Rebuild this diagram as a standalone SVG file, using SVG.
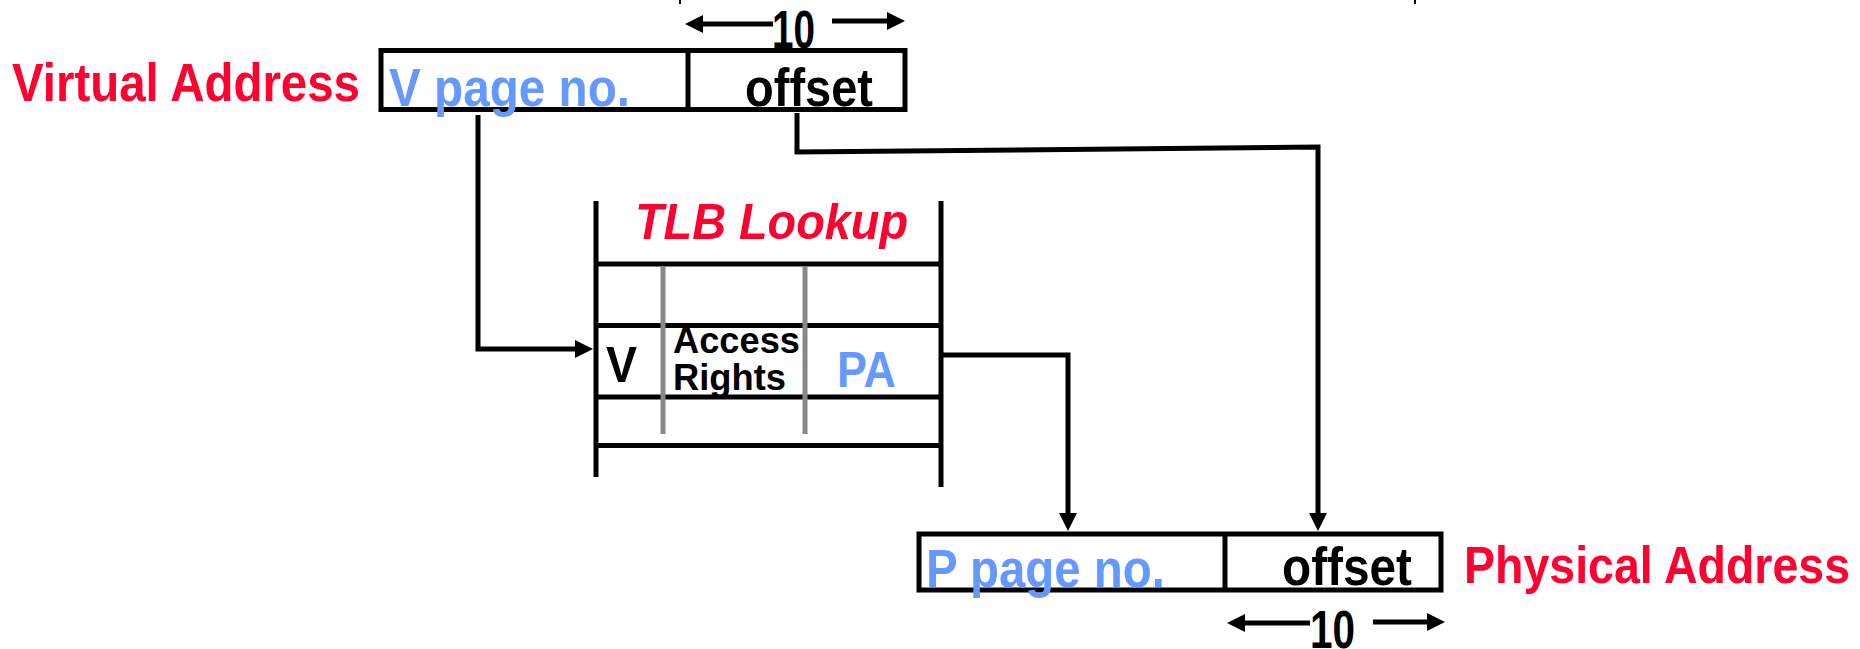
<svg xmlns="http://www.w3.org/2000/svg" width="1860" height="649" viewBox="0 0 1860 649">
<defs>
<style>
text{font-family:"Liberation Sans",Arial,Helvetica,sans-serif;font-weight:bold}
.red{fill:#ff0030}
.blue{fill:#6699ff}
.blk{fill:#000}
.box{fill:none;stroke:#000;stroke-width:5}
.ln{fill:none;stroke:#000;stroke-width:5}
.gray{fill:none;stroke:#888;stroke-width:5}
.conn{fill:none;stroke:#000;stroke-width:5;marker-end:url(#ah)}
</style>
<marker id="ah" viewBox="0 0 18 18" refX="6" refY="9" markerWidth="18" markerHeight="18" markerUnits="userSpaceOnUse" orient="auto">
<path d="M0,0 L18,9 L0,18 z" fill="#000"/>
</marker>
</defs>
<rect width="1860" height="649" fill="#fff"/>

<g id="ticks">
<line x1="680" y1="0" x2="680" y2="4" stroke="#000" stroke-width="2"/>
<line x1="1415" y1="0" x2="1415" y2="4" stroke="#000" stroke-width="2"/>
</g>

<g id="virtual-address-label">
<text class="red" x="12" y="101" font-size="54" textLength="348" lengthAdjust="spacingAndGlyphs">Virtual Address</text>
</g>

<g id="virtual-address">
<rect class="box" x="381" y="50.5" width="524" height="59"/>
<line class="ln" x1="688" y1="50" x2="688" y2="110"/>
<text class="blue" x="389" y="106" font-size="53" textLength="241" lengthAdjust="spacingAndGlyphs">V page no.</text>
<text class="blk" x="745" y="106" font-size="53" textLength="128" lengthAdjust="spacingAndGlyphs">offset</text>
</g>

<g id="va-offset-width">
<path class="conn" d="M773,24 H697"/>
<path class="conn" d="M832,21 H893"/>
<text class="blk" x="772" y="48" font-size="53" textLength="43" lengthAdjust="spacingAndGlyphs">10</text>
</g>

<g id="tlb">
<line class="ln" x1="596" y1="201" x2="596" y2="477"/>
<line class="ln" x1="941" y1="201" x2="941" y2="487"/>
<line class="ln" x1="598" y1="264" x2="939" y2="264"/>
<line class="ln" x1="598" y1="325.5" x2="939" y2="325.5"/>
<line class="ln" x1="598" y1="397" x2="939" y2="397"/>
<line class="ln" x1="598" y1="445.5" x2="939" y2="445.5"/>
<line class="gray" x1="663" y1="267" x2="663" y2="434"/>
<line class="gray" x1="805" y1="267" x2="805" y2="434"/>
<text class="red" x="635" y="239" font-size="50" font-style="italic" textLength="273" lengthAdjust="spacingAndGlyphs">TLB Lookup</text>
<text class="blk" x="606" y="382" font-size="50" textLength="31" lengthAdjust="spacingAndGlyphs">V</text>
<text class="blk" x="673" y="353" font-size="36" textLength="127" lengthAdjust="spacingAndGlyphs">Access</text>
<text class="blk" x="673" y="390" font-size="36" textLength="113" lengthAdjust="spacingAndGlyphs">Rights</text>
<text class="blue" x="837" y="387" font-size="50" textLength="59" lengthAdjust="spacingAndGlyphs">PA</text>
</g>

<g id="physical-address">
<rect class="box" x="919" y="534" width="522" height="56"/>
<line class="ln" x1="1225" y1="534" x2="1225" y2="590"/>
<text class="blue" x="926" y="587" font-size="53" textLength="239" lengthAdjust="spacingAndGlyphs">P page no.</text>
<text class="blk" x="1282" y="585" font-size="53" textLength="130" lengthAdjust="spacingAndGlyphs">offset</text>
</g>

<g id="physical-address-label">
<text class="red" x="1464" y="583" font-size="52" textLength="386" lengthAdjust="spacingAndGlyphs">Physical Address</text>
</g>

<g id="pa-offset-width">
<path class="conn" d="M1310,623 H1239"/>
<path class="conn" d="M1373,622 H1433"/>
<text class="blk" x="1310" y="648" font-size="53" textLength="45" lengthAdjust="spacingAndGlyphs">10</text>
</g>

<g id="connectors">
<path class="conn" d="M478,115 V349 H581"/>
<path class="conn" d="M797,113 V152 L1318,147 V519"/>
<path class="conn" d="M941,355 H1068 V519"/>
</g>
</svg>
